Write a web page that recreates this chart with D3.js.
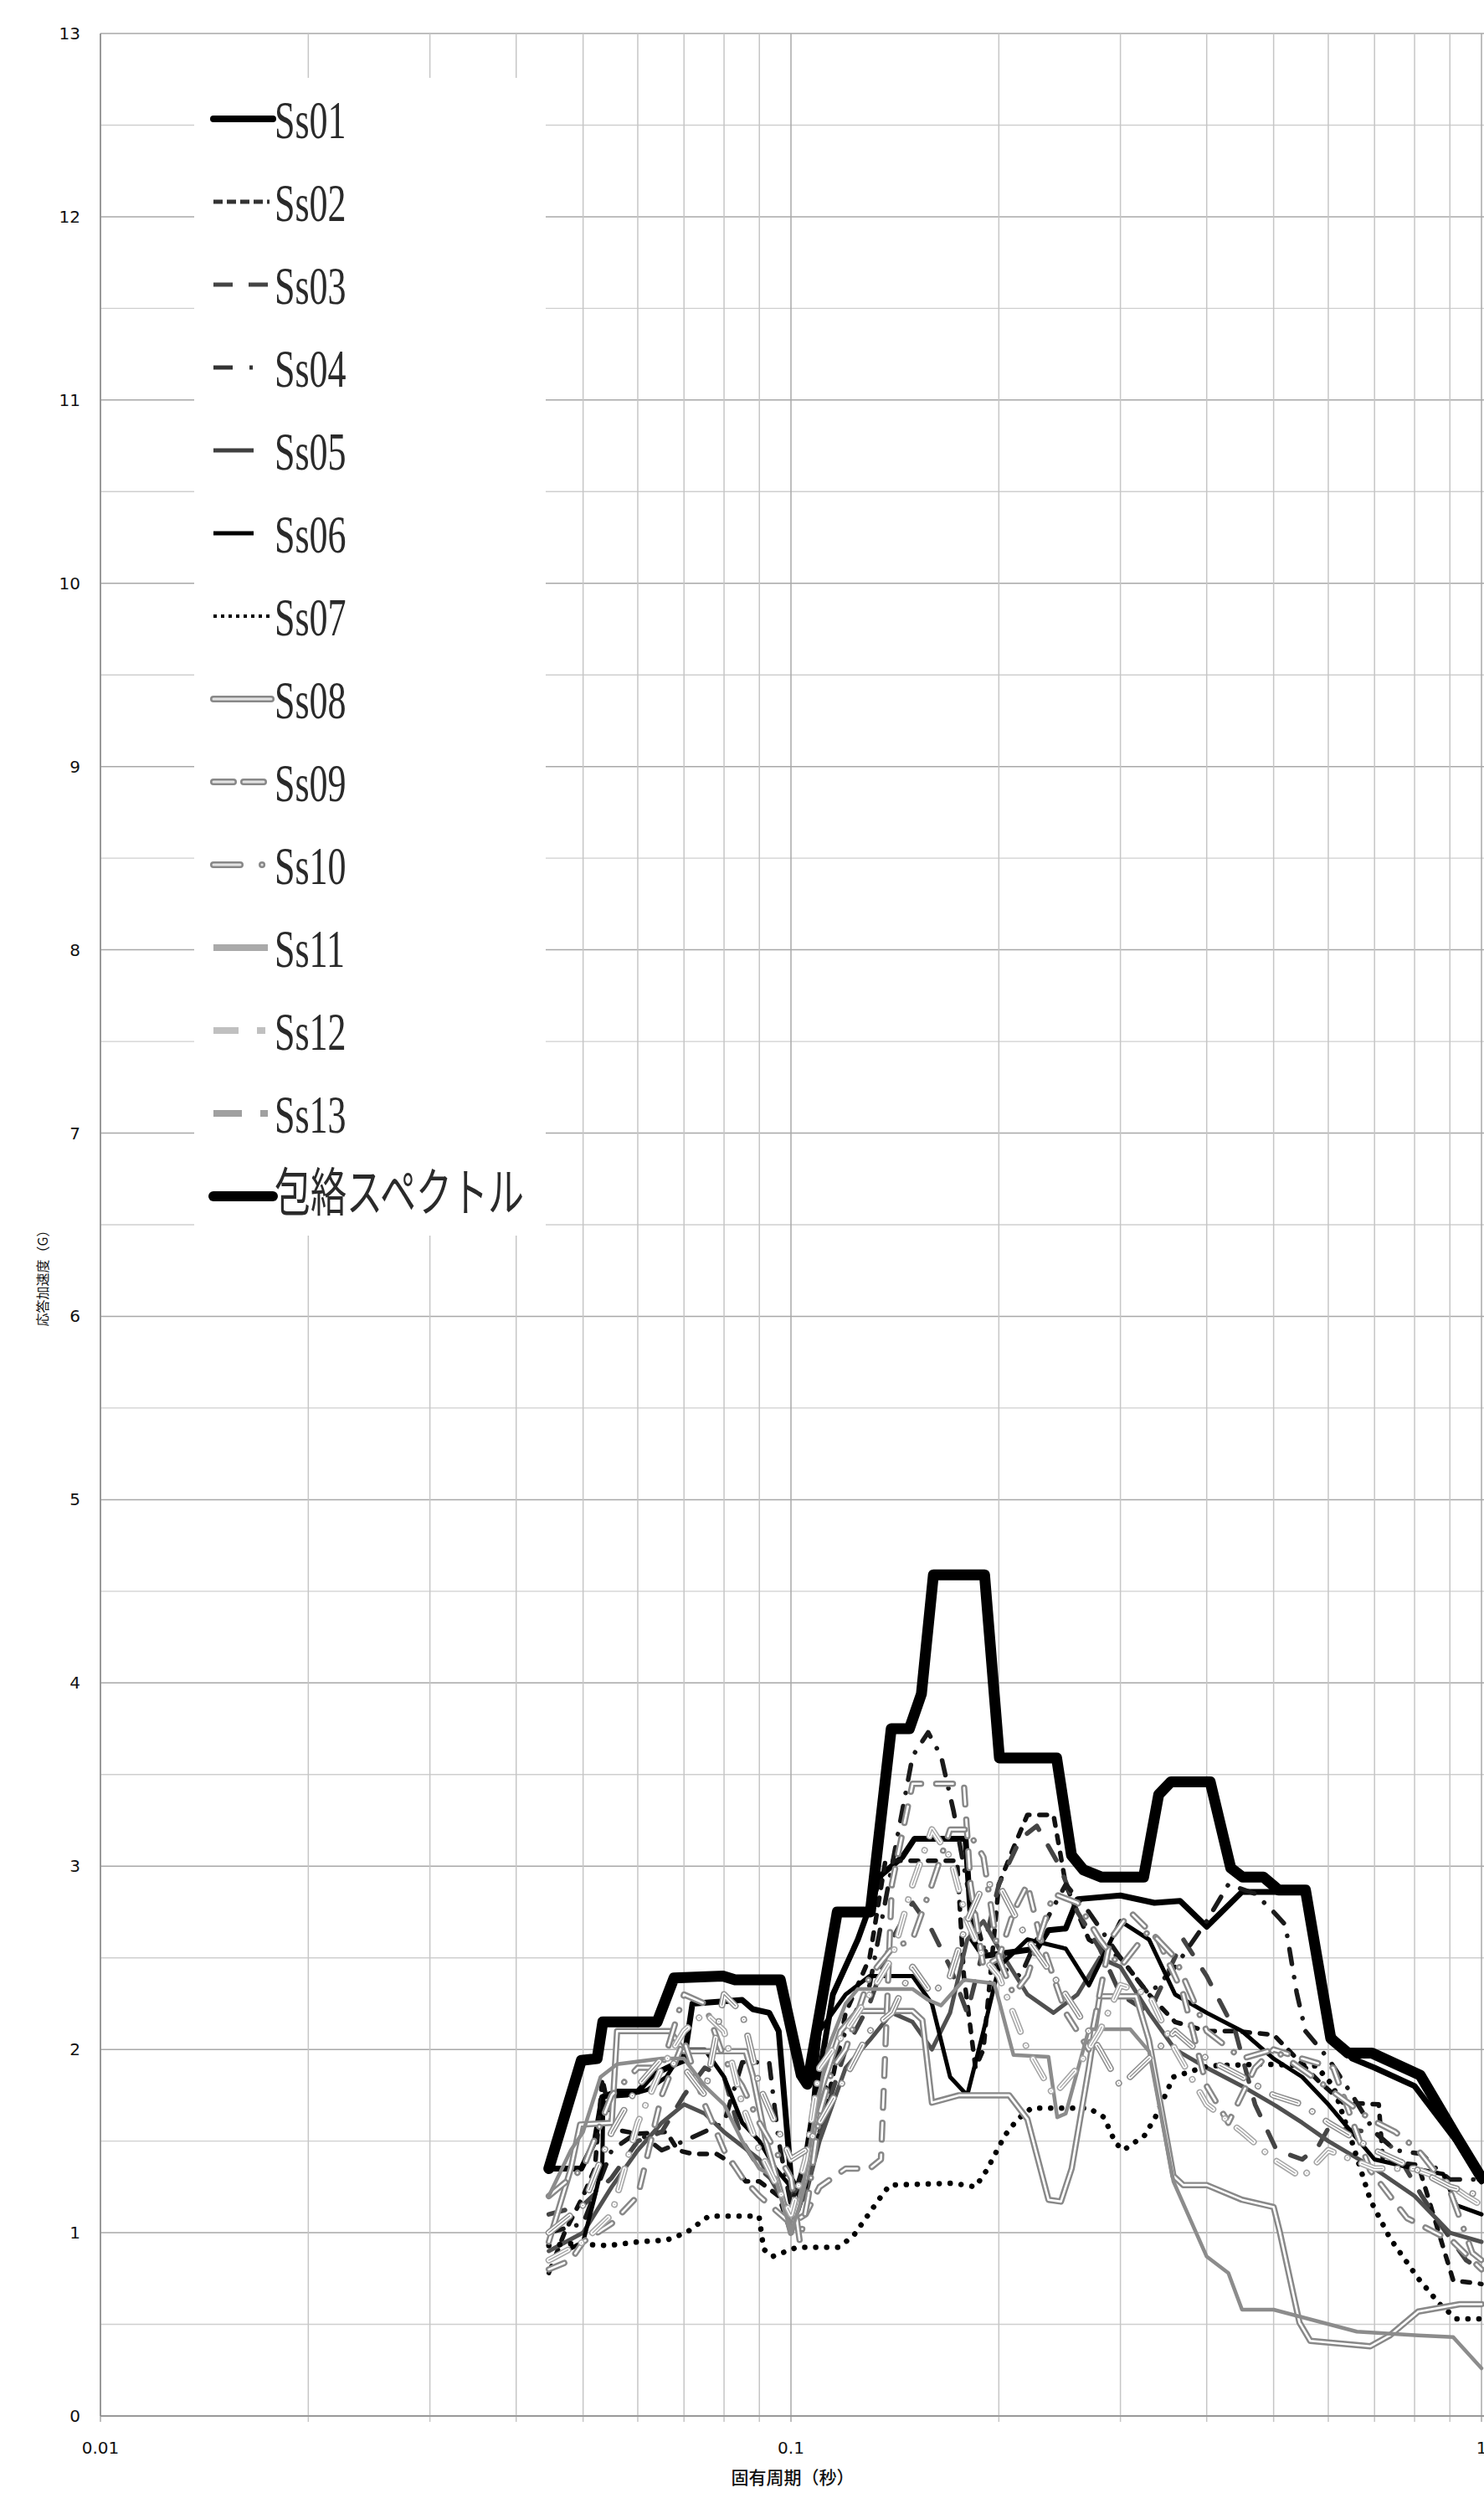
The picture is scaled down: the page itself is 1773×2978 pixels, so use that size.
<!DOCTYPE html>
<html>
<head>
<meta charset="utf-8">
<script src="https://cdn.jsdelivr.net/npm/d3@7"></script>
<style>
  body { margin: 0; background: #fff; }
  svg { display: block; }
</style>
</head>
<body>
<script>
var width = 1773, height = 2978;

// [固有周期(秒), 応答加速度(G)]
var ss01 = [[0.0446,1.35],[0.0497,1.35],[0.052,1.5],[0.0533,1.74],[0.056,1.77],[0.06,1.77],[0.063,1.86],[0.067,1.91],[0.07,1.94],[0.072,2.25],[0.085,2.27],[0.088,2.22],[0.093,2.2],[0.096,2.1],[0.1,1.3],[0.103,1.2],[0.107,1.6],[0.115,2.3],[0.125,2.6],[0.135,2.95],[0.145,3.05],[0.151,3.15],[0.179,3.15],[0.183,2.6],[0.19,2.51],[0.227,2.55],[0.236,2.65],[0.25,2.66],[0.26,2.82],[0.3,2.84],[0.336,2.8],[0.366,2.81],[0.40,2.67],[0.45,2.86],[0.556,2.86],[0.6,2.1],[0.65,1.95],[0.7,1.9],[0.8,1.8],[0.92,1.5],[1.0,1.28]];
var ss02 = [[0.0446,0.78],[0.047,1.0],[0.05,1.2],[0.052,1.35],[0.0533,1.84],[0.055,1.6],[0.056,1.56],[0.06,1.54],[0.066,1.55],[0.0686,1.45],[0.072,1.43],[0.078,1.43],[0.082,1.38],[0.086,1.28],[0.09,1.28],[0.096,1.2],[0.1,1.0],[0.105,1.25],[0.11,1.55],[0.115,1.85],[0.12,2.2],[0.13,2.5],[0.137,3.03],[0.174,3.03],[0.178,2.4],[0.185,1.9],[0.19,2.0],[0.2,2.9],[0.21,3.1],[0.22,3.28],[0.24,3.28],[0.25,2.9],[0.27,2.6],[0.3,2.5],[0.33,2.3],[0.36,2.15],[0.4,2.1],[0.44,2.1],[0.5,2.08],[0.58,1.83],[0.63,1.71],[0.71,1.7],[0.72,1.39],[0.81,1.37],[0.91,0.74],[1.0,0.72]];
var ss03 = [[0.0446,1.1],[0.05,1.15],[0.055,1.3],[0.06,1.5],[0.065,1.55],[0.07,1.75],[0.075,1.9],[0.08,1.85],[0.085,1.5],[0.09,1.35],[0.1,1.2],[0.105,1.3],[0.11,1.55],[0.12,2.0],[0.13,2.25],[0.14,2.6],[0.15,2.8],[0.16,2.65],[0.17,2.45],[0.18,2.2],[0.19,2.55],[0.2,2.9],[0.215,3.15],[0.227,3.22],[0.245,3.0],[0.26,2.75],[0.28,2.55],[0.3,2.3],[0.33,2.2],[0.37,2.6],[0.4,2.4],[0.44,2.1],[0.47,1.7],[0.505,1.45],[0.55,1.4],[0.58,1.47],[0.6,1.57],[0.7,1.55],[0.75,1.45],[0.82,1.2],[0.87,1.05],[0.95,0.85],[1.0,0.8]];
var ss04 = [[0.0446,1.0],[0.05,1.05],[0.055,1.45],[0.06,1.55],[0.065,1.45],[0.07,1.5],[0.08,1.6],[0.085,1.93],[0.093,1.93],[0.096,1.5],[0.1,1.15],[0.105,1.4],[0.11,1.7],[0.12,2.1],[0.13,2.35],[0.14,3.0],[0.15,3.6],[0.158,3.73],[0.165,3.6],[0.172,3.3],[0.18,2.9],[0.19,2.55],[0.2,2.45],[0.215,2.4],[0.23,2.65],[0.25,2.9],[0.27,2.75],[0.3,2.5],[0.33,2.3],[0.36,2.45],[0.4,2.7],[0.43,2.9],[0.47,2.85],[0.5,2.75],[0.52,2.68],[0.54,2.31],[0.556,2.1],[0.6,1.95],[0.65,1.75],[0.7,1.55],[0.75,1.45],[0.82,1.43],[0.86,1.35],[0.9,1.29],[1.0,1.29]];
var ss05 = [[0.0446,0.9],[0.05,1.0],[0.055,1.25],[0.06,1.45],[0.065,1.6],[0.07,1.7],[0.075,1.65],[0.08,1.55],[0.09,1.4],[0.1,1.1],[0.105,1.2],[0.11,1.5],[0.12,1.9],[0.13,2.05],[0.14,2.2],[0.15,2.15],[0.16,2.0],[0.17,2.2],[0.18,2.6],[0.19,2.7],[0.2,2.55],[0.22,2.3],[0.24,2.2],[0.26,2.3],[0.28,2.5],[0.3,2.45],[0.33,2.2],[0.36,2.0],[0.4,1.9],[0.45,1.8],[0.5,1.7],[0.55,1.6],[0.6,1.5],[0.7,1.35],[0.8,1.2],[0.9,1.0],[1.0,0.95]];
var ss06 = [[0.0446,0.85],[0.05,0.95],[0.052,1.2],[0.0533,1.37],[0.0535,1.74],[0.058,1.75],[0.062,1.78],[0.066,1.85],[0.07,2.0],[0.075,2.0],[0.08,1.85],[0.085,1.6],[0.09,1.5],[0.095,1.35],[0.1,1.25],[0.105,1.25],[0.11,2.1],[0.12,2.3],[0.13,2.4],[0.15,2.4],[0.16,2.25],[0.17,1.85],[0.18,1.75],[0.19,2.1],[0.2,2.45],[0.22,2.6],[0.25,2.55],[0.27,2.35],[0.3,2.7],[0.33,2.6],[0.36,2.3],[0.4,2.2],[0.45,2.1],[0.5,1.95],[0.55,1.85],[0.6,1.7],[0.7,1.4],[0.8,1.35],[0.88,1.32],[0.92,1.15],[1.0,1.1]];
var ss07 = [[0.0446,0.93],[0.0477,0.94],[0.0544,0.93],[0.06,0.95],[0.0661,0.96],[0.0705,1.0],[0.076,1.09],[0.0899,1.09],[0.0913,0.91],[0.094,0.87],[0.102,0.92],[0.117,0.92],[0.123,0.98],[0.134,1.18],[0.139,1.26],[0.172,1.27],[0.185,1.25],[0.192,1.34],[0.204,1.53],[0.213,1.62],[0.223,1.68],[0.27,1.68],[0.284,1.63],[0.295,1.49],[0.303,1.45],[0.325,1.53],[0.337,1.63],[0.358,1.85],[0.402,1.91],[0.48,1.92],[0.576,1.91],[0.61,1.8],[0.65,1.49],[0.69,1.18],[0.737,0.97],[0.81,0.75],[0.87,0.61],[0.92,0.53],[1.0,0.53]];
var ss08 = [[0.0446,0.95],[0.048,1.35],[0.0495,1.59],[0.055,1.6],[0.056,2.1],[0.0668,2.1],[0.07,1.99],[0.086,1.99],[0.088,1.86],[0.092,1.5],[0.097,1.2],[0.1,1.0],[0.105,1.3],[0.11,1.75],[0.118,2.1],[0.125,2.21],[0.15,2.21],[0.155,2.16],[0.16,1.71],[0.175,1.75],[0.207,1.75],[0.22,1.62],[0.236,1.18],[0.246,1.17],[0.255,1.35],[0.27,1.9],[0.28,2.29],[0.316,2.29],[0.33,2.05],[0.358,1.31],[0.37,1.26],[0.40,1.26],[0.45,1.18],[0.50,1.14],[0.51,1.01],[0.545,0.51],[0.565,0.41],[0.69,0.38],[0.737,0.44],[0.81,0.57],[0.93,0.61],[1.0,0.61]];
var ss09 = [[0.0446,0.8],[0.048,0.85],[0.05,0.95],[0.055,1.05],[0.06,1.2],[0.065,1.75],[0.07,2.05],[0.075,1.7],[0.08,1.45],[0.085,1.3],[0.09,1.2],[0.1,1.05],[0.105,1.1],[0.11,1.25],[0.12,1.35],[0.13,1.35],[0.135,1.4],[0.14,2.9],[0.15,3.45],[0.178,3.45],[0.182,2.9],[0.19,2.45],[0.2,2.5],[0.21,2.75],[0.22,2.9],[0.23,2.6],[0.25,2.2],[0.27,2.0],[0.29,2.6],[0.31,2.75],[0.34,2.6],[0.37,2.3],[0.4,1.8],[0.43,1.6],[0.47,1.9],[0.5,2.0],[0.55,1.95],[0.61,1.9],[0.69,1.34],[0.78,1.08],[0.91,0.95],[1.0,0.8]];
var ss10 = [[0.0446,1.2],[0.048,1.3],[0.05,1.35],[0.055,1.75],[0.06,1.9],[0.065,1.9],[0.07,2.3],[0.075,2.25],[0.08,1.95],[0.085,1.8],[0.09,1.6],[0.1,1.3],[0.103,0.95],[0.106,1.2],[0.11,1.65],[0.115,1.9],[0.12,2.0],[0.13,2.4],[0.14,2.55],[0.15,2.6],[0.16,2.9],[0.17,3.2],[0.18,3.2],[0.19,3.05],[0.2,2.5],[0.21,2.3],[0.22,2.4],[0.24,2.85],[0.26,2.8],[0.28,2.6],[0.3,2.45],[0.33,2.65],[0.36,2.5],[0.4,2.1],[0.45,1.95],[0.5,2.0],[0.57,1.85],[0.69,1.62],[0.75,1.55],[0.81,1.45],[0.9,1.23],[0.97,0.89],[1.0,0.85]];
var ss11 = [[0.0446,1.2],[0.048,1.45],[0.05,1.55],[0.053,1.85],[0.056,1.92],[0.065,1.95],[0.07,1.95],[0.075,1.8],[0.08,1.7],[0.085,1.5],[0.09,1.35],[0.095,1.3],[0.1,1.0],[0.103,1.15],[0.108,1.6],[0.113,2.0],[0.12,2.25],[0.125,2.33],[0.15,2.33],[0.158,2.27],[0.165,2.24],[0.178,2.38],[0.197,2.36],[0.2,2.27],[0.21,1.97],[0.236,1.96],[0.243,1.63],[0.25,1.65],[0.27,2.11],[0.31,2.11],[0.33,1.99],[0.358,1.28],[0.40,0.87],[0.43,0.78],[0.45,0.58],[0.50,0.58],[0.66,0.46],[0.81,0.44],[0.91,0.43],[1.0,0.26]];
var ss12 = [[0.0446,0.85],[0.05,0.95],[0.055,1.1],[0.06,1.6],[0.065,1.9],[0.07,2.1],[0.075,2.2],[0.08,2.1],[0.085,1.7],[0.09,1.45],[0.1,1.1],[0.105,1.4],[0.11,1.9],[0.12,2.1],[0.13,2.3],[0.14,2.5],[0.15,2.9],[0.16,3.2],[0.17,3.05],[0.18,2.7],[0.19,2.5],[0.2,2.4],[0.22,2.0],[0.24,1.75],[0.26,1.9],[0.28,2.1],[0.3,2.35],[0.33,2.3],[0.36,2.0],[0.4,1.7],[0.45,1.55],[0.5,1.4],[0.55,1.3],[0.6,1.45],[0.7,1.35],[0.8,1.35],[0.87,1.3],[0.95,1.2],[1.0,1.15]];
var ss13 = [[0.0446,1.0],[0.05,1.15],[0.055,1.55],[0.06,1.8],[0.065,1.95],[0.07,1.9],[0.075,1.75],[0.08,2.3],[0.085,2.2],[0.09,1.8],[0.1,1.4],[0.105,1.45],[0.11,1.6],[0.12,1.85],[0.13,2.1],[0.14,2.2],[0.15,2.45],[0.16,2.3],[0.17,2.4],[0.18,2.7],[0.19,2.9],[0.2,2.9],[0.22,2.6],[0.24,2.4],[0.26,2.2],[0.28,2.0],[0.3,1.8],[0.33,1.95],[0.36,2.1],[0.4,1.95],[0.45,1.85],[0.5,1.75],[0.55,1.7],[0.6,1.6],[0.7,1.45],[0.8,1.35],[0.9,1.25],[1.0,1.2]];
var envelope = [[0.0446,1.35],[0.0497,1.94],[0.0524,1.95],[0.0534,2.15],[0.064,2.15],[0.0677,2.39],[0.0797,2.40],[0.083,2.38],[0.0965,2.38],[0.1035,1.86],[0.1056,1.81],[0.1167,2.75],[0.1303,2.75],[0.1397,3.75],[0.1484,3.75],[0.1545,3.94],[0.1608,4.59],[0.1907,4.59],[0.2004,3.59],[0.2425,3.59],[0.2548,3.06],[0.2652,2.98],[0.2818,2.94],[0.3241,2.94],[0.3408,3.39],[0.355,3.46],[0.4047,3.46],[0.4334,2.99],[0.451,2.94],[0.4835,2.94],[0.5083,2.87],[0.556,2.87],[0.605,2.06],[0.641,1.98],[0.694,1.98],[0.815,1.86],[0.918,1.53],[1.0,1.30]];

var seriesNames = ["Ss01","Ss02","Ss03","Ss04","Ss05","Ss06","Ss07","Ss08","Ss09","Ss10","Ss11","Ss12","Ss13","包絡スペクトル"];
var seriesData = [ss01,ss02,ss03,ss04,ss05,ss06,ss07,ss08,ss09,ss10,ss11,ss12,ss13,envelope];
var yTicks = d3.range(0, 14);
var xTickLabels = [0.01, 0.1, 1];

// line look for each series (chart / legend)
var styles = [
  {c:"#000",    w:7,   dash:null,            lw:8, ld:null,          x2:326},
  {c:"#111",    w:5.5, dash:"9 12",          lw:5, ld:"11 5",        x2:322, lc:"#333"},
  {c:"#444",    w:5.5, dash:"20 22",         lw:5, ld:"23 19",       x2:320},
  {c:"#1a1a1a", w:5.5, dash:"18 16 0.1 16",  lw:5, ld:"23 20 4 100", x2:305, lc:"#333"},
  {c:"#505050", w:5,   dash:null,            lw:5, ld:null,          x2:303, lc:"#404040"},
  {c:"#000",    w:5,   dash:null,            lw:5, ld:null,          x2:303},
  {c:"#000",    w:6.5, dash:"0.1 13",        lw:4, ld:"4 5",         x2:322},
  {c:"#888",    w:7.5, dash:null,  inner:2.6, lw:8, ld:null,         x2:324},
  {c:"#888",    w:7.5, dash:"20 18", inner:2.6, lw:8, ld:"24 12",    x2:316},
  {c:"#888",    w:7.5, dash:"26 18 0.1 18", inner:2.6, lw:8, ld:"32 26 0.1 100", x2:320},
  {c:"#8c8c8c", w:4.5, dash:null,            lw:8, ld:null,          x2:320, lc:"#aaa"},
  {c:"#a6a6a6", w:8,   dash:"26 18 0.1 18", triple:true, lw:8, ld:"30 22 10 100", x2:320, lc:"#c0c0c0"},
  {c:"#8f8f8f", w:8,   dash:"32 20 0.1 20", triple:true, lw:8, ld:"34 22 10 100", x2:320, lc:"#a0a0a0"},
  {c:"#000",    w:13,  dash:null,            lw:12, ld:null,         x2:326}
];

var svg = d3.select("body").append("svg")
    .attr("width", width)
    .attr("height", height);
svg.append("rect").attr("width", width).attr("height", height).attr("fill", "#fff");

var x = d3.scaleLog().domain([0.01, 1]).range([120, 1770]);
var y = d3.scaleLinear().domain([0, 13]).range([2886, 40]);

// grid
var grid = svg.append("g");
grid.selectAll(".hminor")
    .data(d3.range(0.5, 13, 1))
    .join("line")
    .attr("x1", 120).attr("x2", width)
    .attr("y1", d => y(d)).attr("y2", d => y(d))
    .attr("stroke", "#cfcfcf").attr("stroke-width", 1.4);
grid.selectAll(".hmajor")
    .data(yTicks)
    .join("line")
    .attr("x1", 120).attr("x2", width)
    .attr("y1", d => y(d)).attr("y2", d => y(d))
    .attr("stroke", "#a8a8a8").attr("stroke-width", 1.5);
var xt = x.ticks();
grid.selectAll(".v")
    .data(xt)
    .join("line")
    .attr("x1", d => x(d)).attr("x2", d => x(d))
    .attr("y1", 40).attr("y2", 2893)
    .attr("stroke", d => xTickLabels.indexOf(d) >= 0 ? "#a8a8a8" : "#c6c6c6")
    .attr("stroke-width", 1.5);

// axes
svg.append("line").attr("x1", 120).attr("x2", 120).attr("y1", 40).attr("y2", 2886)
    .attr("stroke", "#8c8c8c").attr("stroke-width", 1.5);
svg.append("line").attr("x1", 120).attr("x2", width).attr("y1", 2886).attr("y2", 2886)
    .attr("stroke", "#8c8c8c").attr("stroke-width", 1.5);

svg.append("g").selectAll("text")
    .data(yTicks)
    .join("text")
    .attr("x", 96).attr("y", d => y(d) + 7)
    .attr("text-anchor", "end")
    .attr("font-family", "DejaVu Sans")
    .attr("font-size", 20)
    .attr("fill", "#111")
    .text(d => d);

svg.append("g").selectAll("text")
    .data(xTickLabels)
    .join("text")
    .attr("x", d => x(d)).attr("y", 2931)
    .attr("text-anchor", "middle")
    .attr("font-family", "DejaVu Sans")
    .attr("font-size", 20)
    .attr("fill", "#111")
    .text(d => d);

svg.append("text")
    .attr("transform", "translate(57,1523) rotate(-90)")
    .attr("text-anchor", "middle")
    .attr("font-family", "Noto Sans CJK JP")
    .attr("font-size", 16)
    .attr("fill", "#111")
    .text("応答加速度（G）");

svg.append("text")
    .attr("x", 947).attr("y", 2967)
    .attr("text-anchor", "middle")
    .attr("font-family", "Noto Sans CJK JP")
    .attr("font-weight", 500)
    .attr("font-size", 21)
    .attr("fill", "#111")
    .text("固有周期（秒）");

// series
svg.append("clipPath").attr("id", "plot")
  .append("rect").attr("x", 120).attr("y", 40).attr("width", width - 120).attr("height", 2846);

var line = d3.line().x(d => x(d[0])).y(d => y(d[1]));
var plot = svg.append("g").attr("clip-path", "url(#plot)");

function drawPath(g, d, color, w, dash) {
  g.append("path").attr("d", d).attr("fill", "none")
    .attr("stroke", color).attr("stroke-width", w)
    .attr("stroke-dasharray", dash)
    .attr("stroke-linecap", "round").attr("stroke-linejoin", "round");
}

seriesData.forEach(function(data, i) {
  var st = styles[i];
  var d = line(data);
  var g = plot.append("g");
  drawPath(g, d, st.c, st.w, st.dash);
  if (st.inner) drawPath(g, d, "#fff", st.inner, st.dash);
  if (st.triple) {
    drawPath(g, d, "#fff", st.w - 3.2, st.dash);
    drawPath(g, d, st.c, 1.3, st.dash);
  }
});

// legend
var legend = svg.append("g");
legend.append("rect").attr("x", 232).attr("y", 93).attr("width", 420).attr("height", 1383).attr("fill", "#fff");

seriesNames.forEach(function(name, i) {
  var st = styles[i];
  var ly = 142 + i * 99;
  var col = st.lc || st.c;
  var ln = legend.append("line")
      .attr("x1", 255).attr("x2", st.x2)
      .attr("y1", ly).attr("y2", ly)
      .attr("stroke", col).attr("stroke-width", st.lw)
      .attr("stroke-dasharray", st.ld);
  if (i === 0 || i === 13) ln.attr("stroke-linecap", "round");
  if (st.inner) {
    ln.attr("stroke-linecap", "round");
    legend.append("line")
      .attr("x1", 255).attr("x2", st.x2)
      .attr("y1", ly).attr("y2", ly)
      .attr("stroke", "#e4e4e4").attr("stroke-width", 3)
      .attr("stroke-dasharray", st.ld)
      .attr("stroke-linecap", "round");
  }
  var isCjk = i === 13;
  legend.append("text")
      .attr("transform", "translate(328," + (ly + (isCjk ? 18 : 23)) + ") scale(1,1.45)")
      .attr("font-family", isCjk ? "Noto Sans CJK JP" : "Liberation Serif")
      .attr("font-size", isCjk ? 43 : 44)
      .attr("fill", "#2a2a2a")
      .text(name);
});
</script>
</body>
</html>
